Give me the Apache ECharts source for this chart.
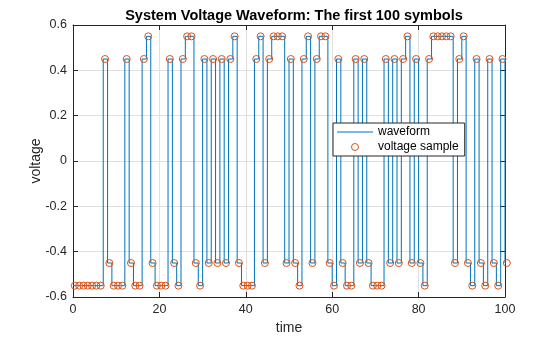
<!DOCTYPE html>
<html>
<head>
<meta charset="utf-8">
<script src="https://cdn.jsdelivr.net/npm/echarts@6/dist/echarts.min.js"></script>
<style>
html,body{margin:0;padding:0;background:#fff;}
#chart{width:560px;height:337px;}
</style>
</head>
<body>
<div id="chart"></div>
<script>
// Symbol voltage levels for symbols 0..100
const voltageLevels = [
  -0.55,-0.55,-0.55,-0.55,-0.55,-0.55,-0.55, 0.45,-0.45,-0.55,
  -0.55,-0.55, 0.45,-0.45,-0.55,-0.55, 0.45, 0.55,-0.45,-0.55,
  -0.55,-0.55, 0.45,-0.45,-0.55, 0.45, 0.55, 0.55,-0.45,-0.55,
   0.45,-0.45, 0.45,-0.45, 0.45,-0.45, 0.45, 0.55,-0.45,-0.55,
  -0.55,-0.55, 0.45, 0.55,-0.45, 0.45, 0.55, 0.55, 0.55,-0.45,
   0.45,-0.45,-0.55, 0.45, 0.55,-0.45, 0.45, 0.55, 0.55,-0.45,
  -0.55, 0.45,-0.45,-0.55,-0.55, 0.45,-0.45, 0.45,-0.45,-0.55,
  -0.55,-0.55, 0.45,-0.45, 0.45,-0.45, 0.45, 0.55,-0.45, 0.45,
  -0.45,-0.55, 0.45, 0.55, 0.55, 0.55, 0.55, 0.55,-0.45, 0.45,
   0.55,-0.45,-0.55, 0.45,-0.45,-0.55, 0.45,-0.45,-0.55, 0.45,
  -0.45
];
const symbolPeriod = 1;      // time units per symbol
const sampleOffset = 0.42;   // sampling instant inside each symbol
const xTicks = {min: 0, max: 100, interval: 20};
const yTicks = {min: -0.6, max: 0.6, interval: 0.2};
const seriesNames = ['waveform', 'voltage sample'];

const waveData = voltageLevels.map((v, k) => [k * symbolPeriod, v]);
waveData.push([voltageLevels.length * symbolPeriod, voltageLevels[voltageLevels.length - 1]]);
const sampleData = voltageLevels.map((v, k) => [k * symbolPeriod + sampleOffset, v]);

const FONT = 'Liberation Sans, Arial, Helvetica, sans-serif';
const AX = '#262626';
const ORANGE = '#D95319';
const chart = echarts.init(document.getElementById('chart'), null, {renderer: 'canvas'});
const hiddenAxis = (pos) => ({
  position: pos, axisLine: {show: true, onZero: false, lineStyle: {color: AX, width: 1}},
  axisTick: {show: true, inside: true, length: 5, lineStyle: {color: AX}},
  axisLabel: {show: false}, splitLine: {show: false}
});
chart.setOption({
  animation: false,
  backgroundColor: '#ffffff',
  title: {
    text: 'System Voltage Waveform: The first 100 symbols',
    left: 289, top: 3, textAlign: 'center',
    textStyle: {fontFamily: FONT, fontSize: 14.5, fontWeight: 'bold', color: '#000'}
  },
  grid: {left: 73, right: 55, top: 25, bottom: 40, containLabel: false, outerBoundsMode: 'none'},
  legend: {
    orient: 'vertical', left: 333, top: 123,
    backgroundColor: '#fff', borderColor: AX, borderWidth: 1, borderRadius: 0,
    padding: [2, 6, 2, 4], itemGap: 1, itemWidth: 36, itemHeight: 7,
    textStyle: {fontFamily: FONT, fontSize: 12, color: '#000', lineHeight: 14},
    data: [
      {name: seriesNames[0], icon: 'path://M0,5 L36,5 L36,6 L0,6 Z'},
      {name: seriesNames[1], icon: 'circle',
       itemStyle: {color: 'rgba(0,0,0,0)', borderColor: ORANGE, borderWidth: 1}}
    ]
  },
  xAxis: [{
    type: 'value', min: xTicks.min, max: xTicks.max, interval: xTicks.interval,
    name: 'time', nameLocation: 'middle', nameGap: 24, nameMoveOverlap: false,
    nameTextStyle: {fontFamily: FONT, fontSize: 14, color: AX},
    axisLine: {show: true, onZero: false, lineStyle: {color: AX, width: 1}},
    axisTick: {show: true, inside: true, length: 5, lineStyle: {color: AX}},
    axisLabel: {fontFamily: FONT, fontSize: 12.5, color: AX, margin: 6},
    splitLine: {show: true, lineStyle: {color: '#dfdfdf', width: 1}}
  }, Object.assign({type: 'value', min: xTicks.min, max: xTicks.max, interval: xTicks.interval}, hiddenAxis('top'))],
  yAxis: [{
    type: 'value', min: yTicks.min, max: yTicks.max, interval: yTicks.interval,
    name: 'voltage', nameLocation: 'middle', nameGap: 30, nameRotate: 90, nameMoveOverlap: false,
    nameTextStyle: {fontFamily: FONT, fontSize: 14, color: AX},
    axisLine: {show: true, onZero: false, lineStyle: {color: AX, width: 1}},
    axisTick: {show: true, inside: true, length: 5, lineStyle: {color: AX}},
    axisLabel: {fontFamily: FONT, fontSize: 12.5, color: AX, margin: 6,
      formatter: v => String(Math.round(v * 10) / 10)},
    splitLine: {show: true, lineStyle: {color: '#dfdfdf', width: 1}}
  }, Object.assign({type: 'value', min: yTicks.min, max: yTicks.max, interval: yTicks.interval}, hiddenAxis('right'))],
  series: [{
    name: seriesNames[0], type: 'line', step: 'end', data: waveData,
    symbol: 'none', lineStyle: {color: '#0072BD', width: 1}, itemStyle: {color: '#0072BD'},
    clip: true, z: 2
  }, {
    name: seriesNames[1], type: 'scatter', data: sampleData,
    symbol: 'circle', symbolSize: 7,
    itemStyle: {color: 'rgba(0,0,0,0)', borderColor: ORANGE, borderWidth: 1, opacity: 1},
    clip: false, z: 3
  }]
});
</script>
</body>
</html>
